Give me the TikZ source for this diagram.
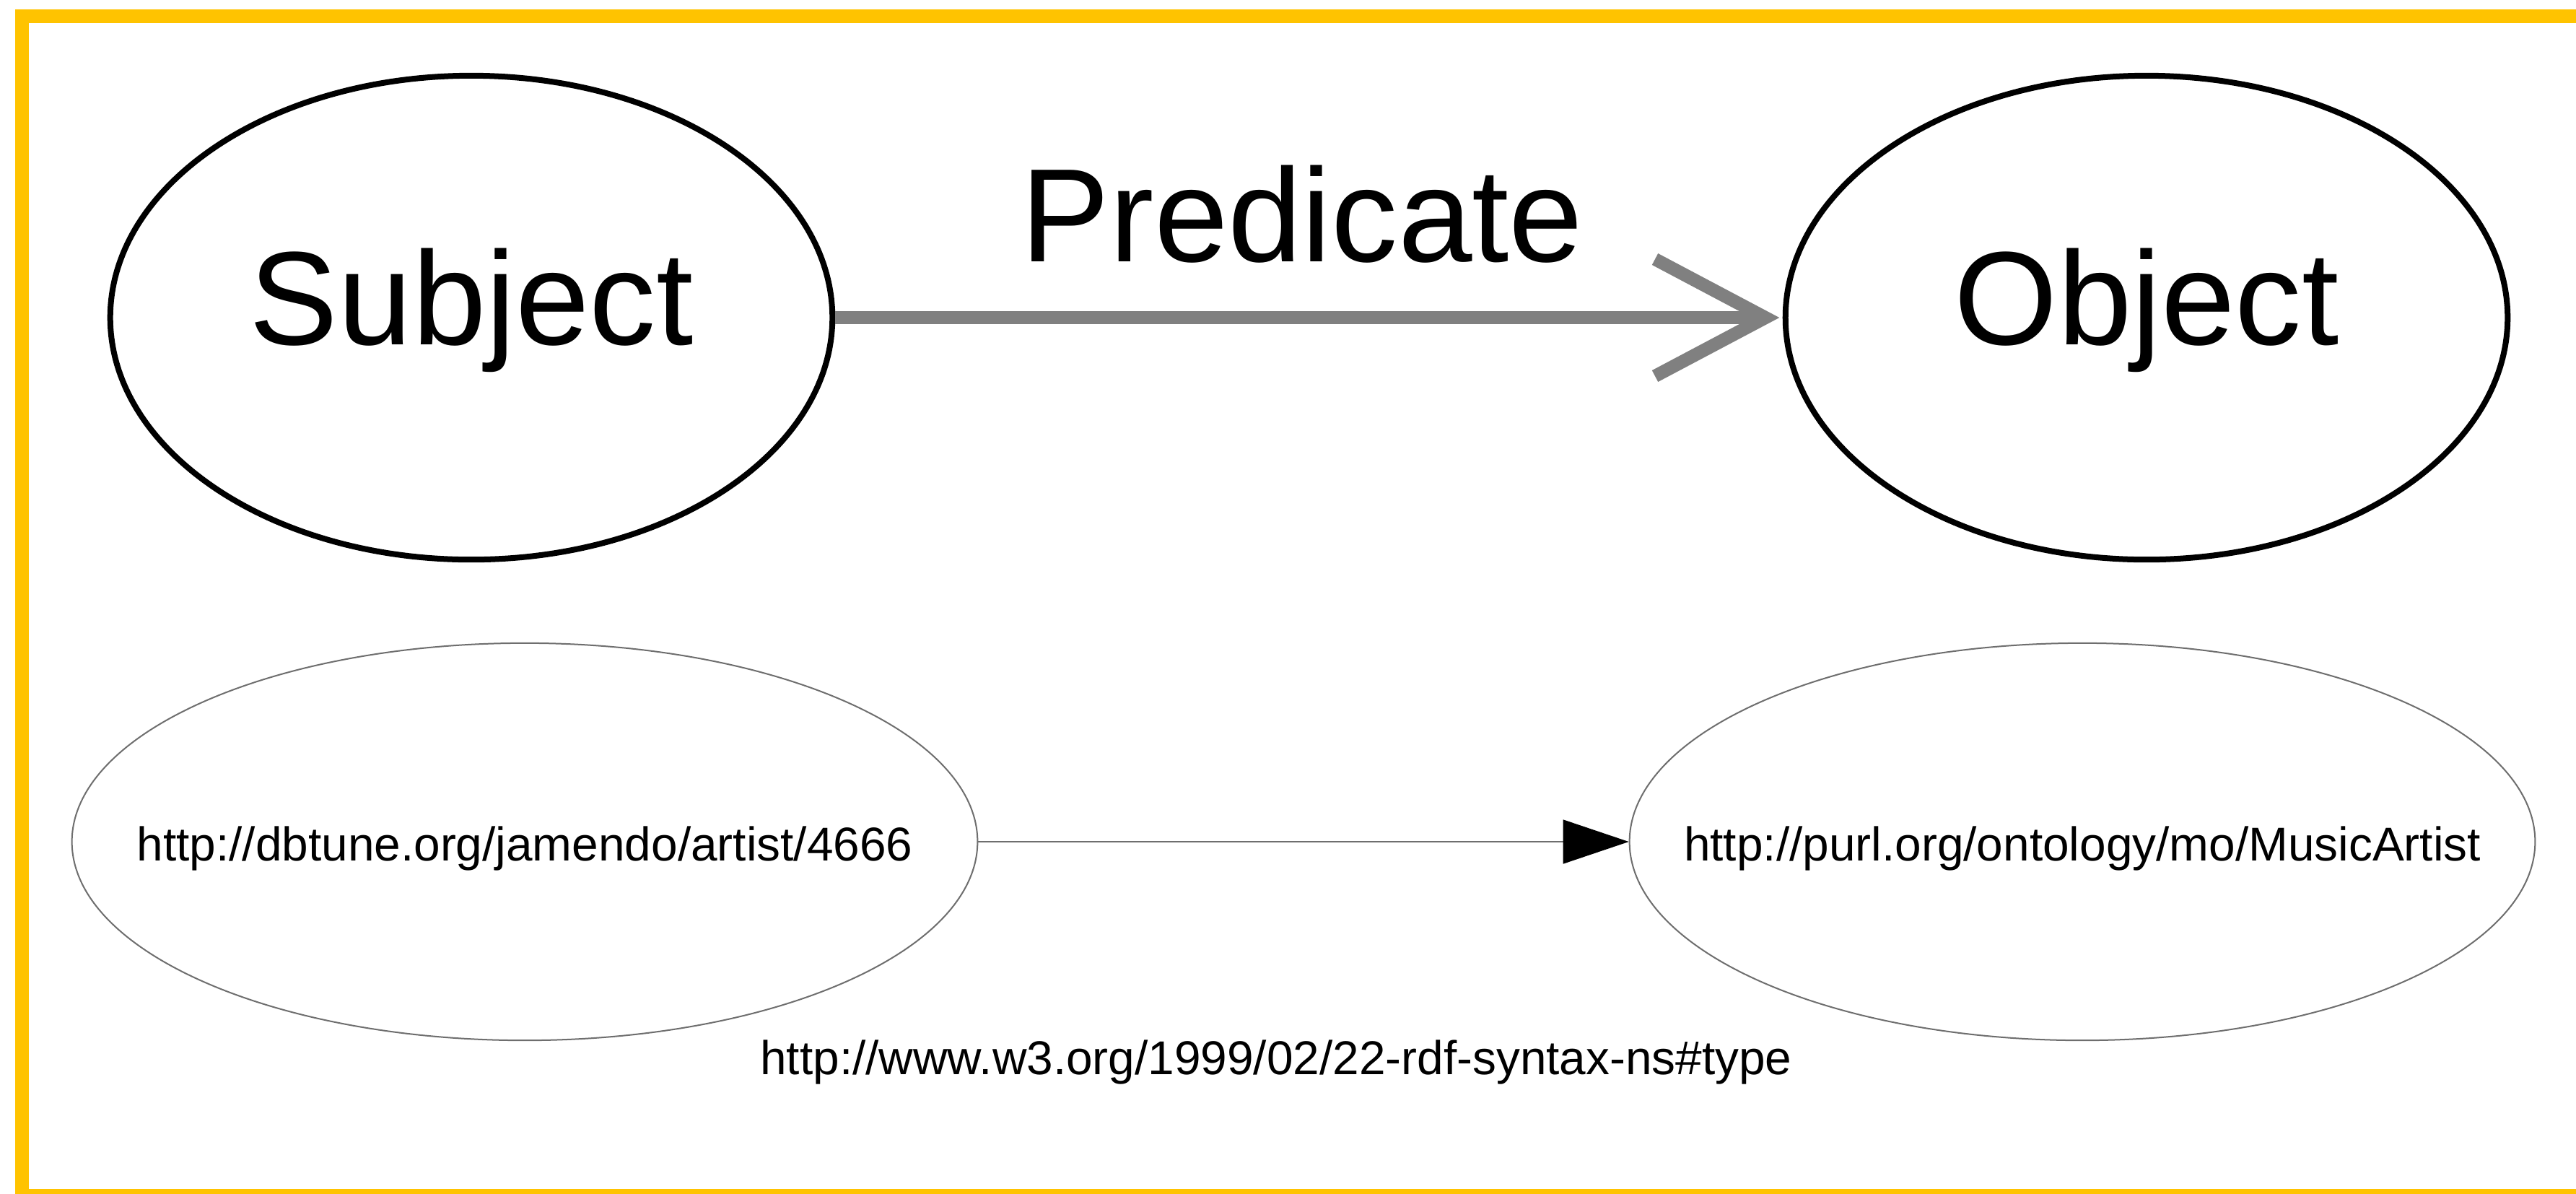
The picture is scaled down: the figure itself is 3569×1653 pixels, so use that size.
\documentclass[tikz,border=0pt]{standalone}
\usepackage{fontspec}
\setmainfont{Liberation Sans}
\usetikzlibrary{shapes.geometric,arrows.meta,calc}
\definecolor{frameyellow}{RGB}{255,195,0}
\definecolor{predgray}{RGB}{128,128,128}
\definecolor{thingray}{RGB}{110,110,110}
\tikzset{
  bigell/.style={ellipse, draw=black, line width=0.08cm, minimum width=10cm, minimum height=6.7cm, inner sep=0pt,
    font=\fontsize{52.4pt}{60pt}\selectfont, text height=1.34cm, text depth=0.6cm},
  smallell/.style={ellipse, draw=thingray, line width=0.02cm, minimum width=12.54cm, minimum height=5.5cm, inner sep=0pt,
    font=\fontsize{18.7pt}{22pt}\selectfont, text height=0.6cm, text depth=0.08cm},
  biglabel/.style={font=\fontsize{52.4pt}{60pt}\selectfont, anchor=base, inner sep=0pt},
  smalllabel/.style={font=\fontsize{18.7pt}{22pt}\selectfont, anchor=base, inner sep=0pt},
  predline/.style={draw=predgray, line width=0.18cm, line cap=butt, line join=miter},
  thinarrow/.style={draw=thingray, line width=0.015cm, -{Triangle[length=0.91cm,width=0.61cm,black]}}
}
\begin{document}
\begin{tikzpicture}[x=0.01cm, y=-0.01cm]
\useasboundingbox (0,0) rectangle (3569,1653);
\begin{scope}
\clip (0,0) rectangle (3569,1653);
\fill[white] (0,0) rectangle (3569,1653);
\draw[frameyellow, line width=0.19cm] (30.5,22.5) rectangle (3700,1656.5);

\node[bigell] (S) at (653,440) {Subject};
\node[bigell] (O) at (2974,440) {Object};
\node[biglabel] (P) at (1804,362) {Predicate};
\coordinate (ptip) at (2446,440);
\draw[predline] (S.east) -- (ptip);
\draw[predline] ($(ptip)+(-153,-81)$) -- (ptip) -- ($(ptip)+(-153,81)$);

\node[smallell] (A) at (727,1166) {\makebox[0pt]{http://dbtune.org/jamendo/artist/4666}};
\node[smallell] (M) at (2885,1166) {\makebox[0pt]{http://purl.org/ontology/mo/MusicArtist}};
\draw[thinarrow] (A.east) -- (M.west);
\node[smalllabel] (T) at (1768,1488) {http://www.w3.org/1999/02/22-rdf-syntax-ns\#type};
\end{scope}
\end{tikzpicture}
\end{document}
